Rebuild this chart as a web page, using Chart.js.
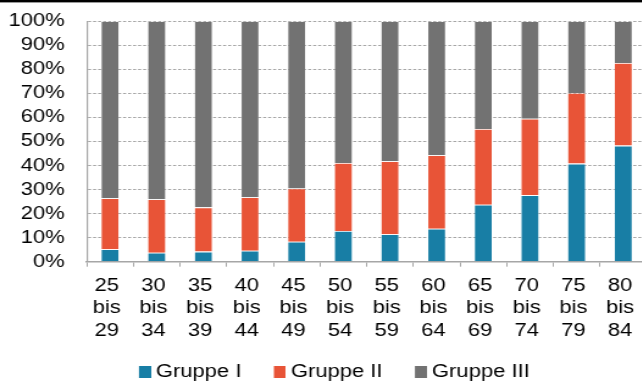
<!DOCTYPE html>
<html>
<head>
<meta charset="utf-8">
<script src="https://cdn.jsdelivr.net/npm/chart.js@4/dist/chart.umd.min.js"></script>
<style>
  html, body { margin: 0; padding: 0; background: #fff; }
  #frame { position: relative; width: 642px; height: 381px; overflow: hidden; background: #fff; }
  /* the drawing surface is widened horizontally */
  #stretch { position: absolute; left: 0; top: 0; width: 542px; height: 391px;
             transform: scaleX(1.22); transform-origin: 0 0; }
</style>
</head>
<body>
<div id="frame"><div id="stretch"><canvas id="chart" width="542" height="391"></canvas></div></div>
<script>
// Age bands (years), shown on three lines each
const ageGroups = [
  ['25', 'bis', '29'], ['30', 'bis', '34'], ['35', 'bis', '39'], ['40', 'bis', '44'],
  ['45', 'bis', '49'], ['50', 'bis', '54'], ['55', 'bis', '59'], ['60', 'bis', '64'],
  ['65', 'bis', '69'], ['70', 'bis', '74'], ['75', 'bis', '79'], ['80', 'bis', '84']
];

// Shares per age band, in percent
const gruppeI   = [5.2, 3.7, 4.2, 4.6, 8.3, 12.8, 11.4, 13.7, 23.7, 27.7, 40.8, 48.3];
const gruppeII  = [21.2, 22.3, 18.4, 22.2, 22.2, 28.3, 30.4, 30.6, 31.5, 31.8, 29.4, 34.4];
const gruppeIII = [73.6, 74.0, 77.4, 73.2, 69.5, 58.9, 58.2, 55.7, 44.8, 40.5, 29.8, 17.3];

const seriesNames  = ['Gruppe I', 'Gruppe II', 'Gruppe III'];
const seriesColors = ['#187ea5', '#e85437', '#727272'];

const FONT = "'Liberation Sans', Arial, Helvetica, sans-serif";
const GRID = '#a6a6a6';

// Legend swatch: square sitting at the right end of a small transparent strip
function swatch(color) {
  const c = document.createElement('canvas');
  c.width = 21; c.height = 12;
  const g = c.getContext('2d');
  g.fillStyle = color;
  g.fillRect(11, 0, 10, 12);
  return c;
}
const swatches = seriesColors.map(swatch);

// Thick black rule along the top edge
const topRule = {
  id: 'topRule',
  afterDraw(chart) {
    const ctx = chart.ctx;
    ctx.save();
    ctx.fillStyle = '#000';
    ctx.fillRect(0, 0, chart.width, 2.4);
    ctx.restore();
  }
};

const datasets = [gruppeI, gruppeII, gruppeIII].map((values, i) => ({
  label: seriesNames[i],
  data: values,
  backgroundColor: seriesColors[i],
  borderColor: 'rgba(255,255,255,0.28)',
  borderWidth: 0.8,
  barPercentage: 0.4,
  categoryPercentage: 1.0
}));

new Chart(document.getElementById('chart'), {
  type: 'bar',
  data: { labels: ageGroups, datasets },
  plugins: [topRule],
  options: {
    responsive: false,
    animation: false,
    devicePixelRatio: 1,
    layout: { padding: { top: 21.3, left: 0, right: 0, bottom: 0 } },
    font: { family: FONT, size: 18 },
    color: '#000',
    scales: {
      x: {
        stacked: true,
        afterFit(scale) { scale.height = 80.7; scale.paddingRight = 12; scale.paddingLeft = 0; },
        grid: {
          offset: true,
          drawOnChartArea: false,
          drawTicks: true,
          tickLength: 5,
          color: GRID,
          lineWidth: 1
        },
        border: { display: true, color: GRID, width: 1.5 },
        ticks: {
          font: { family: FONT, size: 18, lineHeight: 1.26 },
          color: '#000',
          padding: 7.6,
          labelOffset: -2.7,
          maxRotation: 0,
          autoSkip: false
        }
      },
      y: {
        stacked: true,
        min: 0,
        max: 100,
        afterFit(scale) { scale.width = 71.1; scale.paddingTop = 0; scale.paddingBottom = 0; },
        grid: {
          drawTicks: false,
          color: GRID,
          lineWidth: 1
        },
        border: { display: true, color: GRID, width: 1.2, dash: [2.5, 1.6] },
        ticks: {
          stepSize: 10,
          autoSkip: false,
          padding: 18,
          font: { family: FONT, size: 18 },
          color: '#000',
          callback: v => v + '%'
        }
      }
    },
    plugins: {
      tooltip: { enabled: false },
      legend: {
        position: 'bottom',
        labels: {
          font: { family: FONT, size: 18 },
          color: '#000',
          usePointStyle: true,
          pointStyleWidth: 11,
          padding: 20.6,
          generateLabels(chart) {
            const items = Chart.defaults.plugins.legend.labels.generateLabels(chart);
            items.forEach((it, i) => { it.pointStyle = swatches[i]; });
            return items;
          }
        }
      }
    }
  }
});
</script>
</body>
</html>
